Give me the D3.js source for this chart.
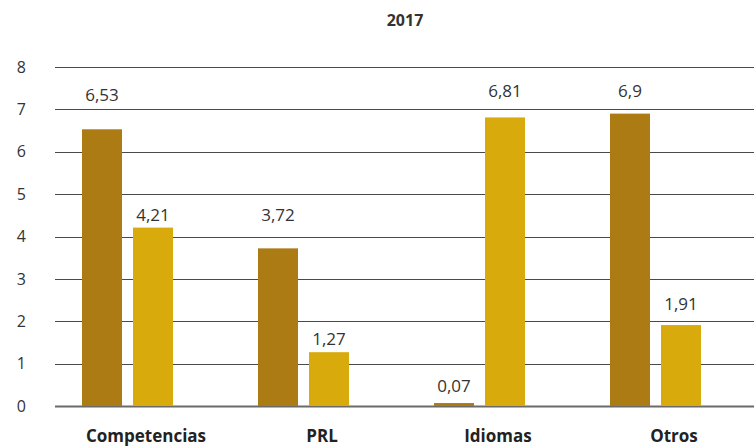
<!DOCTYPE html>
<html>
<head>
<meta charset="utf-8">
<script src="https://cdn.jsdelivr.net/npm/d3@7/dist/d3.min.js"></script>
<style>
  html, body { margin: 0; padding: 0; background: #fff; }
  svg { display: block; font-family: "Open Sans", "Noto Sans", sans-serif; }
</style>
</head>
<body>
<svg id="chart" width="754" height="446"></svg>
<script>
// Chart data
const title = "2017";
const categories = ["Competencias", "PRL", "Idiomas", "Otros"];
const seriesNames = ["A", "B"];
const seriesA = [6.53, 3.72, 0.07, 6.9];
const seriesB = [4.21, 1.27, 6.81, 1.91];
const yTicks = [0, 1, 2, 3, 4, 5, 6, 7, 8];

const colors = { A: "#ad7b13", B: "#d9aa0c" };
// extra lift of each value label above its bar top (per series, per category)
const labelLift = {
  A: [28, 27, 11, 17],
  B: [7, 7, 20, 15]
};

const svg = d3.select("#chart");
const W = 754;

const y = d3.scaleLinear().domain([0, 8]).range([406, 67]);
const x0 = d3.scaleBand().domain(categories).range([62, 766]);
const x1 = d3.scaleBand().domain(seriesNames).range([20, 111]).paddingInner(11 / 51);

// title
svg.append("text")
  .attr("x", 405).attr("y", 26)
  .attr("text-anchor", "middle")
  .attr("font-size", 16).attr("font-weight", 700)
  .attr("fill", "#333")
  .text(title);

// gridlines
svg.append("g")
  .selectAll("line")
  .data(yTicks)
  .join("line")
  .attr("x1", 55).attr("x2", W)
  .attr("y1", d => Math.round(y(d)) + 0.5)
  .attr("y2", d => Math.round(y(d)) + 0.5)
  .attr("stroke", d => d === 0 ? "#6a6a6a" : "#4a4a4a")
  .attr("stroke-width", d => d === 0 ? 2 : 1);

// y axis labels
const yAxis = d3.axisLeft(y).tickValues(yTicks).tickSize(0).tickPadding(0);
const gy = svg.append("g").attr("transform", "translate(26,0)").call(yAxis);
gy.select(".domain").remove();
gy.selectAll("text")
  .attr("font-size", 16)
  .attr("font-family", "'Open Sans', 'Noto Sans', sans-serif")
  .attr("fill", "#333");

// bars
const rows = categories.map((c, i) => ({ cat: c, i, vals: [
  { s: "A", v: seriesA[i] }, { s: "B", v: seriesB[i] }
] }));

const groups = svg.append("g")
  .selectAll("g")
  .data(rows)
  .join("g")
  .attr("transform", d => `translate(${x0(d.cat)},0)`);

groups.selectAll("rect")
  .data(d => d.vals.map(v => ({ ...v, i: d.i })))
  .join("rect")
  .attr("x", d => x1(d.s))
  .attr("width", x1.bandwidth())
  .attr("y", d => y(d.v))
  .attr("height", d => y(0) - y(d.v))
  .attr("fill", d => colors[d.s]);

groups.selectAll("text.val")
  .data(d => d.vals.map(v => ({ ...v, i: d.i })))
  .join("text")
  .attr("class", "val")
  .attr("x", d => x1(d.s) + x1.bandwidth() / 2)
  .attr("y", d => y(d.v) - labelLift[d.s][d.i])
  .attr("text-anchor", "middle")
  .attr("font-size", 17)
  .attr("fill", "#333")
  .text(d => d3.format(".2~f")(d.v).replace(".", ","));

// category labels
svg.append("g")
  .selectAll("text")
  .data(categories)
  .join("text")
  .attr("x", d => x0(d) + 84)
  .attr("y", 442)
  .attr("text-anchor", "middle")
  .attr("font-size", 17)
  .attr("font-weight", 700)
  .attr("fill", "#222")
  .text(d => d);
</script>
</body>
</html>
